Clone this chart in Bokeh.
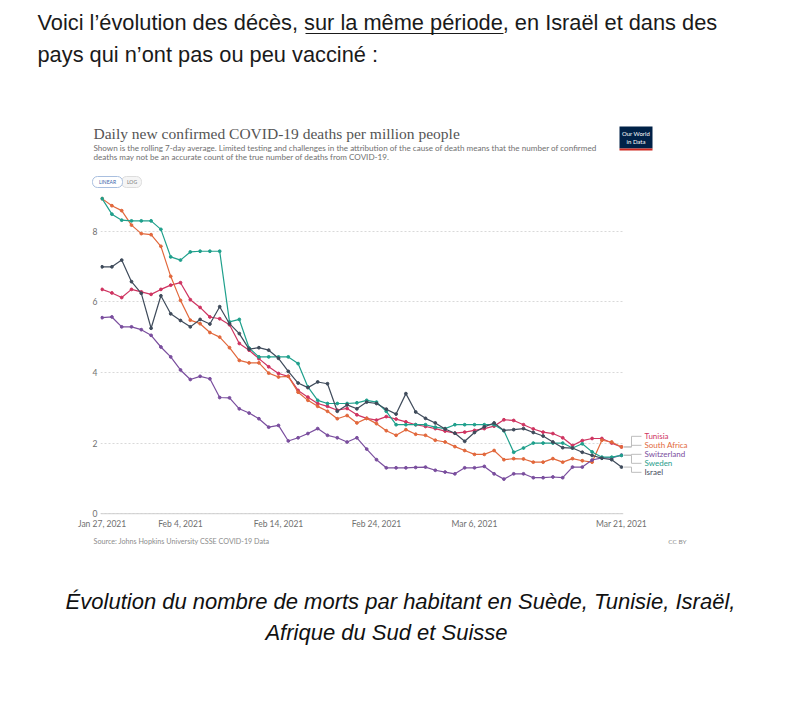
import pandas as pd
from bokeh.plotting import figure
from bokeh.models import Range1d, FixedTicker, Span, ColumnDataSource
from bokeh.core.properties import value
from bokeh.embed import file_html
from bokeh.resources import INLINE

# ---------------- data ----------------
dates = pd.date_range("2021-01-27", "2021-03-21", freq="D")

tunisia = [6.35, 6.25, 6.12, 6.35, 6.28, 6.21, 6.35, 6.47, 6.54, 6.06,
           5.84, 5.57, 5.52, 5.35, 4.82, 4.63, 4.39, 4.16, 3.97, 3.89,
           3.49, 3.30, 3.12, 3.04, 2.93, 2.98, 2.80, 2.70, 2.65, 2.75,
           2.68, 2.60, 2.52, 2.47, 2.41, 2.34, 2.28, 2.31, 2.36, 2.41,
           2.48, 2.66, 2.64, 2.52, 2.40, 2.31, 2.27, 2.15, 1.93, 2.07,
           2.13, 2.13, 2.00, 1.89]
south_africa = [8.92, 8.72, 8.58, 8.17, 7.93, 7.90, 7.57, 6.72, 6.04, 5.48,
                5.38, 5.13, 5.00, 4.70, 4.34, 4.27, 4.27, 3.98, 3.87, 3.89,
                3.44, 3.21, 3.04, 2.90, 2.69, 2.78, 2.57, 2.70, 2.55, 2.35,
                2.22, 2.38, 2.25, 2.22, 2.08, 2.03, 1.90, 1.79, 1.68, 1.68,
                1.79, 1.53, 1.56, 1.55, 1.46, 1.46, 1.56, 1.46, 1.56, 1.50,
                1.46, 2.08, 2.03, 1.89]
switzerland = [5.55, 5.57, 5.29, 5.29, 5.21, 5.05, 4.72, 4.44, 4.07, 3.80,
               3.89, 3.82, 3.29, 3.28, 2.97, 2.85, 2.69, 2.45, 2.50, 2.06,
               2.15, 2.27, 2.41, 2.22, 2.15, 2.03, 2.15, 1.83, 1.53, 1.30,
               1.30, 1.30, 1.31, 1.32, 1.23, 1.18, 1.13, 1.30, 1.30, 1.34,
               1.13, 0.98, 1.13, 1.13, 1.02, 1.02, 1.04, 1.02, 1.32, 1.32,
               1.52, 1.58, 1.58, 1.66]
sweden = [8.92, 8.48, 8.31, 8.29, 8.29, 8.29, 8.05, 7.27, 7.18, 7.41,
          7.43, 7.43, 7.43, 5.43, 5.50, 4.69, 4.44, 4.44, 4.44, 4.44,
          4.25, 3.59, 3.21, 3.12, 3.12, 3.12, 3.14, 3.21, 3.16, 2.90,
          2.52, 2.52, 2.52, 2.52, 2.45, 2.41, 2.52, 2.52, 2.52, 2.52,
          2.52, 2.35, 1.74, 1.86, 2.00, 2.00, 2.00, 2.00, 1.86, 1.98,
          1.75, 1.60, 1.60, 1.65]
israel = [6.99, 6.99, 7.18, 6.57, 6.24, 5.25, 6.17, 5.66, 5.47, 5.29,
          5.50, 5.37, 5.86, 5.38, 5.10, 4.66, 4.70, 4.63, 4.40, 4.03,
          3.70, 3.57, 3.73, 3.68, 2.90, 3.08, 2.97, 3.16, 3.12, 2.96,
          2.82, 3.40, 2.88, 2.70, 2.57, 2.40, 2.28, 2.05, 2.30, 2.46,
          2.57, 2.36, 2.38, 2.41, 2.30, 2.20, 2.03, 1.87, 1.86, 1.74,
          1.65, 1.57, 1.53, 1.32]

names = ["Tunisia", "South Africa", "Switzerland", "Sweden", "Israel"]
colors = ["#CF3461", "#E2683C", "#7A4E9E", "#1FA08C", "#3F4B5B"]
series = [tunisia, south_africa, switzerland, sweden, israel]

x_tick_dates = ["2021-01-27", "2021-02-04", "2021-02-14", "2021-02-24", "2021-03-06", "2021-03-21"]
x_tick_labels = ["Jan 27, 2021", "Feb 4, 2021", "Feb 14, 2021", "Feb 24, 2021", "Mar 6, 2021", "Mar 21, 2021"]
y_ticks = [0, 2, 4, 6, 8]

# ---------------- layout ----------------
W, H = 800, 723
FL, FR, FT, FB = 100, 623, 190, 515
DAY = 86400000.0
t0 = pd.Timestamp("2021-01-27").value / 1e6
x_start = t0 - 0.163 * DAY
x_end = t0 + 53.204 * DAY
y_start, y_end = -0.05, 9.15


def px_x(px):
    return x_start + (px - FL) * (x_end - x_start) / (FR - FL)


def py_y(py):
    return y_end - (py - FT) * (y_end - y_start) / (FB - FT)


p = figure(width=W, height=H, x_axis_type="datetime",
           x_range=Range1d(x_start, x_end), y_range=Range1d(y_start, y_end),
           output_backend="svg", toolbar_location=None,
           min_border_left=FL, min_border_right=W - FR,
           min_border_top=FT, min_border_bottom=H - FB)
p.outline_line_color = None
p.background_fill_color = "white"
p.border_fill_color = "white"

tick_ms = [pd.Timestamp(d).value / 1e6 for d in x_tick_dates]
p.xaxis.ticker = FixedTicker(ticks=tick_ms)
p.xaxis.major_label_overrides = {t: l for t, l in zip(tick_ms, x_tick_labels)}
p.yaxis.ticker = FixedTicker(ticks=y_ticks)
for ax in (p.xaxis, p.yaxis):
    ax.axis_line_color = None
    ax.major_tick_line_color = None
    ax.minor_tick_line_color = None
    ax.major_tick_out = 0
    ax.major_tick_in = 0
    ax.minor_tick_out = 0
    ax.minor_tick_in = 0
    ax.major_label_text_font = "Lato"
    ax.major_label_text_font_size = "8.5px"
    ax.major_label_text_color = "#6f6f6f"
p.xaxis.major_label_standoff = 3
p.yaxis.major_label_standoff = 3

p.xgrid.grid_line_color = None
p.ygrid.ticker = FixedTicker(ticks=y_ticks)
p.ygrid.grid_line_color = "#d9d9d9"
p.ygrid.grid_line_dash = "2 2"
p.add_layout(Span(location=0, dimension="width", line_color="#cfcfcf", line_width=1))

for name, vals, col in zip(names, series, colors):
    src = ColumnDataSource(dict(x=dates, y=vals))
    p.line("x", "y", source=src, color=col, line_width=1.2)
    p.scatter("x", "y", source=src, size=2.8, color=col)

# end labels with connectors
ends = [s[-1] for s in series]
order = sorted(range(len(series)), key=lambda k: -ends[k])
spacing = 9 * (y_end - y_start) / (FB - FT)
center = sum(ends) / len(ends)
label_y = [0.0] * len(series)
for r, k in enumerate(order):
    label_y[k] = center + ((len(series) - 1) / 2 - r) * spacing

xs = [[px_x(623.5), px_x(631), px_x(631), px_x(641)] for _ in series]
ys = [[e, e, ly, ly] for e, ly in zip(ends, label_y)]
p.multi_line(xs, ys, line_color="#bdbdbd", line_width=1, level="overlay")
p.text(x=[px_x(644)] * len(series), y=label_y, text=names, text_color=colors,
       text_font=value("Lato"), text_font_size="8px", text_baseline="middle",
       level="overlay")


def txt(px, py, s, size, color, font="Lato", align="left", style="normal"):
    p.text(x=[px_x(px)], y=[py_y(py)], text=[s], text_color=color,
           text_font=value(font), text_font_size=size, text_align=align,
           text_baseline="middle", text_font_style=style, level="overlay")


def box(l, r, t, b, fill, line=None, radius=0):
    p.quad(left=[px_x(l)], right=[px_x(r)], top=[py_y(t)], bottom=[py_y(b)],
           fill_color=fill, line_color=line, line_width=1, border_radius=radius,
           level="overlay")


# page text above
txt(37, 22, "Voici l’évolution des décès, sur la même période, en Israël et dans des",
    "21.8px", "#1a1a1a", font="Liberation Sans")
txt(37, 54, "pays qui n’ont pas ou peu vacciné :", "21.8px", "#1a1a1a", font="Liberation Sans")
p.segment(x0=[px_x(305)], y0=[py_y(33)], x1=[px_x(503)], y1=[py_y(33)],
          line_color="#1a1a1a", line_width=1, level="overlay")

# chart header
txt(93, 133, "Daily new confirmed COVID-19 deaths per million people", "15.5px", "#555555",
    font="Liberation Serif")
txt(93, 147.5, "Shown is the rolling 7-day average. Limited testing and challenges in the attribution "
    "of the cause of death means that the number of confirmed", "8.1px", "#707070")
txt(93, 156, "deaths may not be an accurate count of the true number of deaths from COVID-19.",
    "8.1px", "#707070")

# linear / log buttons
box(121, 141, 176, 187, "#f5f5f5", "#dddddd", 5)
box(92, 122, 176, 187, "white", "#a9bfdf", 5)
txt(107, 181.5, "LINEAR", "5px", "#3b64a8", align="center")
txt(131.5, 181.5, "LOG", "5px", "#777777", align="center")

# logo
box(619, 652, 126, 148, "#002147")
box(619, 652, 148, 150, "#CE261E")
txt(635.5, 133, "Our World", "6px", "white", align="center")
txt(635.5, 141, "in Data", "6px", "white", align="center")

# footer
txt(93, 541, "Source: Johns Hopkins University CSSE COVID-19 Data", "7.2px", "#8c8c8c")
txt(686, 541, "CC BY", "6.5px", "#8c8c8c", align="right")

# caption
txt(400, 601, "Évolution du nombre de morts par habitant en Suède, Tunisie, Israël,",
    "22px", "#111111", font="Liberation Sans", align="center", style="italic")
txt(386, 632, "Afrique du Sud et Suisse", "22px", "#111111", font="Liberation Sans",
    align="center", style="italic")

open("out.html", "w").write(file_html(p, INLINE))
